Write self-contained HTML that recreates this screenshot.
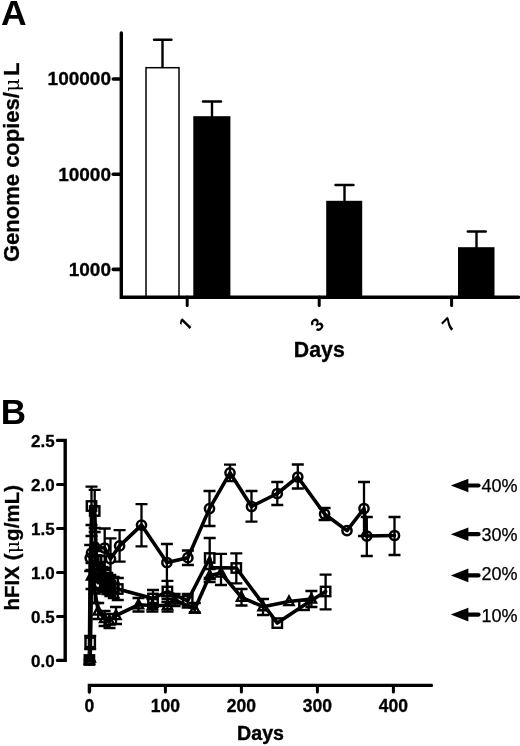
<!DOCTYPE html>
<html lang="en"><head><meta charset="utf-8"><title>Figure</title>
<style>html,body{margin:0;padding:0;background:#fff}svg{display:block;filter:blur(0.45px)}</style></head>
<body>
<svg width="520" height="746" viewBox="0 0 520 746" font-family='"Liberation Sans", sans-serif' fill="#000">
<rect x="0" y="0" width="520" height="746" fill="#fff"/>
<g id="panelA">
<text x="1" y="25.4" font-size="35.5" font-weight="bold">A</text>
<line x1="162.5" y1="39.8" x2="162.5" y2="68.7" stroke="#000" stroke-width="2.4"/>
<line x1="154" y1="39.8" x2="171.5" y2="39.8" stroke="#000" stroke-width="2.4" stroke-linecap="round"/>
<rect x="146" y="67.7" width="33" height="229.3" fill="#fff" stroke="#000" stroke-width="1.5"/>
<line x1="212" y1="101.5" x2="212" y2="117.2" stroke="#000" stroke-width="2.4"/>
<line x1="203" y1="101.5" x2="221" y2="101.5" stroke="#000" stroke-width="2.4" stroke-linecap="round"/>
<rect x="193.3" y="116.2" width="37.099999999999994" height="180.8" fill="#000"/>
<line x1="344.5" y1="185" x2="344.5" y2="201.8" stroke="#000" stroke-width="2.4"/>
<line x1="335.5" y1="185" x2="353.5" y2="185" stroke="#000" stroke-width="2.4" stroke-linecap="round"/>
<rect x="326.2" y="200.8" width="36.0" height="96.19999999999999" fill="#000"/>
<line x1="476.5" y1="231.5" x2="476.5" y2="248.2" stroke="#000" stroke-width="2.4"/>
<line x1="467.8" y1="231.5" x2="485.8" y2="231.5" stroke="#000" stroke-width="2.4" stroke-linecap="round"/>
<rect x="458" y="247.2" width="36.5" height="49.80000000000001" fill="#000"/>
<path d="M121.3 33 V297.3 H518.5" fill="none" stroke="#000" stroke-width="3.4" stroke-linecap="round" stroke-linejoin="miter"/>
<line x1="113.3" y1="79.0" x2="121" y2="79.0" stroke="#000" stroke-width="3.6" stroke-linecap="round"/>
<line x1="113.3" y1="174.2" x2="121" y2="174.2" stroke="#000" stroke-width="3.6" stroke-linecap="round"/>
<line x1="113.3" y1="269.4" x2="121" y2="269.4" stroke="#000" stroke-width="3.6" stroke-linecap="round"/>
<line x1="187.2" y1="297" x2="187.2" y2="305.5" stroke="#000" stroke-width="3" stroke-linecap="round"/>
<line x1="319.2" y1="297" x2="319.2" y2="305.5" stroke="#000" stroke-width="3" stroke-linecap="round"/>
<line x1="451.6" y1="297" x2="451.6" y2="305.5" stroke="#000" stroke-width="3" stroke-linecap="round"/>
<text x="111" y="85.4" font-size="19" font-weight="bold" text-anchor="end" stroke="#000" stroke-width="0.3">100000</text>
<text x="111" y="180.6" font-size="19" font-weight="bold" text-anchor="end" stroke="#000" stroke-width="0.3">10000</text>
<text x="111" y="275.79999999999995" font-size="19" font-weight="bold" text-anchor="end" stroke="#000" stroke-width="0.3">1000</text>
<clipPath id="c1"><path d="M-8 -12 H8 V4.45 H1.85 V8 H-0.95 V4.45 H-8 Z"/></clipPath>
<text transform="translate(185.6,323.8) rotate(-45)" font-size="18.5" font-weight="bold" text-anchor="middle" dominant-baseline="central" clip-path="url(#c1)">1</text>
<text transform="translate(317.1,324.6) rotate(-45)" font-size="18.5" font-weight="bold" text-anchor="middle" dominant-baseline="central">3</text>
<text transform="translate(448.6,324.3) rotate(-45)" font-size="18.5" font-weight="bold" text-anchor="middle" dominant-baseline="central">7</text>
<text x="319.3" y="356.5" font-size="21.3" font-weight="bold" text-anchor="middle" stroke="#000" stroke-width="0.3">Days</text>
<text transform="translate(18.8,262) rotate(-90)" font-size="22" font-weight="bold" stroke="#000" stroke-width="0.3">Genome copies/<tspan font-weight="normal" font-size="20" dx="0.6" stroke="none" font-family='"DejaVu Serif", serif'>μ</tspan><tspan dx="2.4">L</tspan></text>
</g>
<g id="panelB">
<text x="0.8" y="424" font-size="35" font-weight="bold">B</text>
<path d="M57.5 440.4 H65.2 V660.4 H57.5" fill="none" stroke="#000" stroke-width="3.4" stroke-linecap="round" stroke-linejoin="miter"/>
<line x1="57.5" y1="616.4" x2="65" y2="616.4" stroke="#000" stroke-width="3" stroke-linecap="round"/>
<line x1="57.5" y1="572.4" x2="65" y2="572.4" stroke="#000" stroke-width="3" stroke-linecap="round"/>
<line x1="57.5" y1="528.4" x2="65" y2="528.4" stroke="#000" stroke-width="3" stroke-linecap="round"/>
<line x1="57.5" y1="484.4" x2="65" y2="484.4" stroke="#000" stroke-width="3" stroke-linecap="round"/>
<text x="54.6" y="666.5" font-size="17" font-weight="bold" text-anchor="end" stroke="#000" stroke-width="0.3">0.0</text>
<text x="54.6" y="622.5" font-size="17" font-weight="bold" text-anchor="end" stroke="#000" stroke-width="0.3">0.5</text>
<text x="54.6" y="578.5" font-size="17" font-weight="bold" text-anchor="end" stroke="#000" stroke-width="0.3">1.0</text>
<text x="54.6" y="534.5" font-size="17" font-weight="bold" text-anchor="end" stroke="#000" stroke-width="0.3">1.5</text>
<text x="54.6" y="490.5" font-size="17" font-weight="bold" text-anchor="end" stroke="#000" stroke-width="0.3">2.0</text>
<text x="54.6" y="446.5" font-size="17" font-weight="bold" text-anchor="end" stroke="#000" stroke-width="0.3">2.5</text>
<path d="M89.4 692 V685.4 H431.5" fill="none" stroke="#000" stroke-width="3.4" stroke-linecap="round" stroke-linejoin="miter"/>
<line x1="165.4" y1="685.4" x2="165.4" y2="692" stroke="#000" stroke-width="3" stroke-linecap="round"/>
<line x1="241.4" y1="685.4" x2="241.4" y2="692" stroke="#000" stroke-width="3" stroke-linecap="round"/>
<line x1="317.4" y1="685.4" x2="317.4" y2="692" stroke="#000" stroke-width="3" stroke-linecap="round"/>
<line x1="393.4" y1="685.4" x2="393.4" y2="692" stroke="#000" stroke-width="3" stroke-linecap="round"/>
<text x="89.4" y="711.7" font-size="17.5" font-weight="bold" text-anchor="middle" stroke="#000" stroke-width="0.3">0</text>
<text x="165.4" y="711.7" font-size="17.5" font-weight="bold" text-anchor="middle" stroke="#000" stroke-width="0.3">100</text>
<text x="241.4" y="711.7" font-size="17.5" font-weight="bold" text-anchor="middle" stroke="#000" stroke-width="0.3">200</text>
<text x="317.4" y="711.7" font-size="17.5" font-weight="bold" text-anchor="middle" stroke="#000" stroke-width="0.3">300</text>
<text x="393.4" y="711.7" font-size="17.5" font-weight="bold" text-anchor="middle" stroke="#000" stroke-width="0.3">400</text>
<text x="260.5" y="739.5" font-size="19.6" font-weight="bold" text-anchor="middle" stroke="#000" stroke-width="0.4">Days</text>
<text transform="translate(19,610.6) rotate(-90)" font-size="20.4" letter-spacing="0.1" font-weight="bold" stroke="#000" stroke-width="0.3">hFIX (<tspan font-weight="normal" font-size="19" stroke="none" font-family='"DejaVu Serif", serif'>μ</tspan>g/mL)</text>
<path d="M450.8 485.5 L468.4 478.7 V492.3 Z" fill="#000"/>
<line x1="466" y1="485.5" x2="478.5" y2="485.5" stroke="#000" stroke-width="4.2" stroke-linecap="round"/>
<text x="481.5" y="491.5" font-size="18" stroke="#000" stroke-width="0.25">40%</text>
<path d="M450.8 534.2 L468.4 527.4000000000001 V541.0 Z" fill="#000"/>
<line x1="466" y1="534.2" x2="478.5" y2="534.2" stroke="#000" stroke-width="4.2" stroke-linecap="round"/>
<text x="481.5" y="540.6" font-size="18" stroke="#000" stroke-width="0.25">30%</text>
<path d="M450.8 575.4 L468.4 568.6 V582.1999999999999 Z" fill="#000"/>
<line x1="466" y1="575.4" x2="478.5" y2="575.4" stroke="#000" stroke-width="4.2" stroke-linecap="round"/>
<text x="481.5" y="579.9" font-size="18" stroke="#000" stroke-width="0.25">20%</text>
<path d="M450.8 614.6 L468.4 607.8000000000001 V621.4 Z" fill="#000"/>
<line x1="466" y1="614.6" x2="478.5" y2="614.6" stroke="#000" stroke-width="4.2" stroke-linecap="round"/>
<text x="481.5" y="621.8" font-size="18" stroke="#000" stroke-width="0.25">10%</text>
<path d="M90.2 545 V571 M84.2 545 H96.2 M84.2 571 H96.2" fill="none" stroke="#000" stroke-width="2.3"/>
<path d="M91.5 536 V570 M85.5 536 H97.5 M85.5 570 H97.5" fill="none" stroke="#000" stroke-width="2.3"/>
<path d="M94.7 528 V566 M88.7 528 H100.7 M88.7 566 H100.7" fill="none" stroke="#000" stroke-width="2.3"/>
<path d="M104.7 528.5 V568 M98.7 528.5 H110.7 M98.7 568 H110.7" fill="none" stroke="#000" stroke-width="2.3"/>
<path d="M110.5 538.4 V577 M104.5 538.4 H116.5 M104.5 577 H116.5" fill="none" stroke="#000" stroke-width="2.3"/>
<path d="M119.6 530.2 V561.6 M113.6 530.2 H125.6 M113.6 561.6 H125.6" fill="none" stroke="#000" stroke-width="2.3"/>
<path d="M141.5 504.2 V546.4 M135.5 504.2 H147.5 M135.5 546.4 H147.5" fill="none" stroke="#000" stroke-width="2.3"/>
<path d="M166.9 544 V596 M160.9 544 H172.9 M160.9 596 H172.9" fill="none" stroke="#000" stroke-width="2.3"/>
<path d="M187.9 550.5 V565 M181.9 550.5 H193.9 M181.9 565 H193.9" fill="none" stroke="#000" stroke-width="2.3"/>
<path d="M209.5 491 V526 M203.5 491 H215.5 M203.5 526 H215.5" fill="none" stroke="#000" stroke-width="2.3"/>
<path d="M230 464.7 V481.2 M224 464.7 H236 M224 481.2 H236" fill="none" stroke="#000" stroke-width="2.3"/>
<path d="M251.5 491 V521.6 M245.5 491 H257.5 M245.5 521.6 H257.5" fill="none" stroke="#000" stroke-width="2.3"/>
<path d="M277.3 482 V505 M271.3 482 H283.3 M271.3 505 H283.3" fill="none" stroke="#000" stroke-width="2.3"/>
<path d="M297.8 464.5 V488.5 M291.8 464.5 H303.8 M291.8 488.5 H303.8" fill="none" stroke="#000" stroke-width="2.3"/>
<path d="M324.6 508 V520 M318.6 508 H330.6 M318.6 520 H330.6" fill="none" stroke="#000" stroke-width="2.3"/>
<path d="M364 482 V536 M358 482 H370 M358 536 H370" fill="none" stroke="#000" stroke-width="2.3"/>
<path d="M366.8 517 V556 M360.8 517 H372.8 M360.8 556 H372.8" fill="none" stroke="#000" stroke-width="2.3"/>
<path d="M394.5 517 V555 M388.5 517 H400.5 M388.5 555 H400.5" fill="none" stroke="#000" stroke-width="2.3"/>
<path d="M90.2 636 V649 M84.2 636 H96.2 M84.2 649 H96.2" fill="none" stroke="#000" stroke-width="2.3"/>
<path d="M91.5 486.7 V525 M85.5 486.7 H97.5 M85.5 525 H97.5" fill="none" stroke="#000" stroke-width="2.3"/>
<path d="M94.7 489.9 V532 M88.7 489.9 H100.7 M88.7 532 H100.7" fill="none" stroke="#000" stroke-width="2.3"/>
<path d="M96.5 551 V569 M90.5 551 H102.5 M90.5 569 H102.5" fill="none" stroke="#000" stroke-width="2.3"/>
<path d="M98.5 556 V582 M92.5 556 H104.5 M92.5 582 H104.5" fill="none" stroke="#000" stroke-width="2.3"/>
<path d="M100.5 562 V588 M94.5 562 H106.5 M94.5 588 H106.5" fill="none" stroke="#000" stroke-width="2.3"/>
<path d="M102.5 567 V590 M96.5 567 H108.5 M96.5 590 H108.5" fill="none" stroke="#000" stroke-width="2.3"/>
<path d="M104.8 570 V592 M98.8 570 H110.8 M98.8 592 H110.8" fill="none" stroke="#000" stroke-width="2.3"/>
<path d="M107.3 573 V594 M101.3 573 H113.3 M101.3 594 H113.3" fill="none" stroke="#000" stroke-width="2.3"/>
<path d="M110.3 575 V596 M104.3 575 H116.3 M104.3 596 H116.3" fill="none" stroke="#000" stroke-width="2.3"/>
<path d="M113.8 577 V598 M107.8 577 H119.8 M107.8 598 H119.8" fill="none" stroke="#000" stroke-width="2.3"/>
<path d="M117.8 578 V600 M111.8 578 H123.8 M111.8 600 H123.8" fill="none" stroke="#000" stroke-width="2.3"/>
<path d="M153 590 V607 M147 590 H159 M147 607 H159" fill="none" stroke="#000" stroke-width="2.3"/>
<path d="M167.4 580.8 V602 M161.4 580.8 H173.4 M161.4 602 H173.4" fill="none" stroke="#000" stroke-width="2.3"/>
<path d="M187.7 594 V607.5 M181.7 594 H193.7 M181.7 607.5 H193.7" fill="none" stroke="#000" stroke-width="2.3"/>
<path d="M209.7 538 V578 M203.7 538 H215.7 M203.7 578 H215.7" fill="none" stroke="#000" stroke-width="2.3"/>
<path d="M236.3 553.3 V583.3 M230.3 553.3 H242.3 M230.3 583.3 H242.3" fill="none" stroke="#000" stroke-width="2.3"/>
<path d="M325.6 574.7 V609.3 M319.6 574.7 H331.6 M319.6 609.3 H331.6" fill="none" stroke="#000" stroke-width="2.3"/>
<path d="M91.5 563 V589 M85.5 563 H97.5 M85.5 589 H97.5" fill="none" stroke="#000" stroke-width="2.3"/>
<path d="M94.7 577 V603 M88.7 577 H100.7 M88.7 603 H100.7" fill="none" stroke="#000" stroke-width="2.3"/>
<path d="M98.2 603 V619 M92.2 603 H104.2 M92.2 619 H104.2" fill="none" stroke="#000" stroke-width="2.3"/>
<path d="M104.6 611 V626 M98.6 611 H110.6 M98.6 626 H110.6" fill="none" stroke="#000" stroke-width="2.3"/>
<path d="M109.5 614 V628 M103.5 614 H115.5 M103.5 628 H115.5" fill="none" stroke="#000" stroke-width="2.3"/>
<path d="M116 607 V624 M110 607 H122 M110 624 H122" fill="none" stroke="#000" stroke-width="2.3"/>
<path d="M138.5 598 V611.5 M132.5 598 H144.5 M132.5 611.5 H144.5" fill="none" stroke="#000" stroke-width="2.3"/>
<path d="M152.4 599 V611.5 M146.4 599 H158.4 M146.4 611.5 H158.4" fill="none" stroke="#000" stroke-width="2.3"/>
<path d="M167.5 599 V611.5 M161.5 599 H173.5 M161.5 611.5 H173.5" fill="none" stroke="#000" stroke-width="2.3"/>
<path d="M174.6 594 V606 M168.6 594 H180.6 M168.6 606 H180.6" fill="none" stroke="#000" stroke-width="2.3"/>
<path d="M194.8 603 V612.5 M188.8 603 H200.8 M188.8 612.5 H200.8" fill="none" stroke="#000" stroke-width="2.3"/>
<path d="M209.7 569 V582 M203.7 569 H215.7 M203.7 582 H215.7" fill="none" stroke="#000" stroke-width="2.3"/>
<path d="M221 553.8 V585 M215 553.8 H227 M215 585 H227" fill="none" stroke="#000" stroke-width="2.3"/>
<path d="M241.5 589 V605.5 M235.5 589 H247.5 M235.5 605.5 H247.5" fill="none" stroke="#000" stroke-width="2.3"/>
<path d="M263 599 V615 M257 599 H269 M257 615 H269" fill="none" stroke="#000" stroke-width="2.3"/>
<path d="M311.4 591 V607 M305.4 591 H317.4 M305.4 607 H317.4" fill="none" stroke="#000" stroke-width="2.3"/>
<polyline points="89.4,660 90.2,558 91.5,553 94.7,547 104.7,548 110.5,558.8 119.6,545.9 141.5,525.1 166.9,562.5 187.9,557.7 209.5,508.6 230,472.8 251.5,506.5 277.3,493.5 297.8,477 324.6,514 347,530.6 364,508.5 366.8,536 394.5,535.5" fill="none" stroke="#000" stroke-width="3.6" stroke-linejoin="round" stroke-linecap="round"/>
<polyline points="89.4,660 90.2,642.4 91.5,506 94.7,511 96.5,560 98.5,569 100.5,575 102.5,578.5 104.8,581 107.3,583.5 110.3,585.5 113.8,587.5 117.8,589 153,598.5 167.4,591.5 187.7,600.8 209.7,558 212,567.6 236.3,568 277.3,623.1 304,605.3 325.6,591.5" fill="none" stroke="#000" stroke-width="3.6" stroke-linejoin="round" stroke-linecap="round"/>
<polyline points="89.4,660 90.2,658 91.5,576 94.7,590 98.2,611 104.6,618.5 109.5,621 116,615.5 138.5,604.8 152.4,605.5 167.5,605.5 174.6,600 194.8,609 209.7,575.5 221,573 241.5,597.3 263,606.7 289,601.5 311.4,599" fill="none" stroke="#000" stroke-width="3.6" stroke-linejoin="round" stroke-linecap="round"/>
<circle cx="89.4" cy="660" r="4.6" fill="none" stroke="#000" stroke-width="2.5"/>
<circle cx="90.2" cy="558" r="4.6" fill="none" stroke="#000" stroke-width="2.5"/>
<circle cx="91.5" cy="553" r="4.6" fill="none" stroke="#000" stroke-width="2.5"/>
<circle cx="94.7" cy="547" r="4.6" fill="none" stroke="#000" stroke-width="2.5"/>
<circle cx="104.7" cy="548" r="4.6" fill="none" stroke="#000" stroke-width="2.5"/>
<circle cx="110.5" cy="558.8" r="4.6" fill="none" stroke="#000" stroke-width="2.5"/>
<circle cx="119.6" cy="545.9" r="4.6" fill="none" stroke="#000" stroke-width="2.5"/>
<circle cx="141.5" cy="525.1" r="4.6" fill="none" stroke="#000" stroke-width="2.5"/>
<circle cx="166.9" cy="562.5" r="4.6" fill="none" stroke="#000" stroke-width="2.5"/>
<circle cx="187.9" cy="557.7" r="4.6" fill="none" stroke="#000" stroke-width="2.5"/>
<circle cx="209.5" cy="508.6" r="4.6" fill="none" stroke="#000" stroke-width="2.5"/>
<circle cx="230" cy="472.8" r="4.6" fill="none" stroke="#000" stroke-width="2.5"/>
<circle cx="251.5" cy="506.5" r="4.6" fill="none" stroke="#000" stroke-width="2.5"/>
<circle cx="277.3" cy="493.5" r="4.6" fill="none" stroke="#000" stroke-width="2.5"/>
<circle cx="297.8" cy="477" r="4.6" fill="none" stroke="#000" stroke-width="2.5"/>
<circle cx="324.6" cy="514" r="4.6" fill="none" stroke="#000" stroke-width="2.5"/>
<circle cx="347" cy="530.6" r="4.6" fill="none" stroke="#000" stroke-width="2.5"/>
<circle cx="364" cy="508.5" r="4.6" fill="none" stroke="#000" stroke-width="2.5"/>
<circle cx="366.8" cy="536" r="4.6" fill="none" stroke="#000" stroke-width="2.5"/>
<circle cx="394.5" cy="535.5" r="4.6" fill="none" stroke="#000" stroke-width="2.5"/>
<rect x="84.7" y="655.3" width="9.4" height="9.4" fill="none" stroke="#000" stroke-width="2.4"/>
<rect x="85.5" y="637.6999999999999" width="9.4" height="9.4" fill="none" stroke="#000" stroke-width="2.4"/>
<rect x="86.8" y="501.3" width="9.4" height="9.4" fill="none" stroke="#000" stroke-width="2.4"/>
<rect x="90.0" y="506.3" width="9.4" height="9.4" fill="none" stroke="#000" stroke-width="2.4"/>
<rect x="91.8" y="555.3" width="9.4" height="9.4" fill="none" stroke="#000" stroke-width="2.4"/>
<rect x="93.8" y="564.3" width="9.4" height="9.4" fill="none" stroke="#000" stroke-width="2.4"/>
<rect x="95.8" y="570.3" width="9.4" height="9.4" fill="none" stroke="#000" stroke-width="2.4"/>
<rect x="97.8" y="573.8" width="9.4" height="9.4" fill="none" stroke="#000" stroke-width="2.4"/>
<rect x="100.1" y="576.3" width="9.4" height="9.4" fill="none" stroke="#000" stroke-width="2.4"/>
<rect x="102.6" y="578.8" width="9.4" height="9.4" fill="none" stroke="#000" stroke-width="2.4"/>
<rect x="105.6" y="580.8" width="9.4" height="9.4" fill="none" stroke="#000" stroke-width="2.4"/>
<rect x="109.1" y="582.8" width="9.4" height="9.4" fill="none" stroke="#000" stroke-width="2.4"/>
<rect x="113.1" y="584.3" width="9.4" height="9.4" fill="none" stroke="#000" stroke-width="2.4"/>
<rect x="148.3" y="593.8" width="9.4" height="9.4" fill="none" stroke="#000" stroke-width="2.4"/>
<rect x="162.70000000000002" y="586.8" width="9.4" height="9.4" fill="none" stroke="#000" stroke-width="2.4"/>
<rect x="183.0" y="596.0999999999999" width="9.4" height="9.4" fill="none" stroke="#000" stroke-width="2.4"/>
<rect x="205.0" y="553.3" width="9.4" height="9.4" fill="none" stroke="#000" stroke-width="2.4"/>
<rect x="231.60000000000002" y="563.3" width="9.4" height="9.4" fill="none" stroke="#000" stroke-width="2.4"/>
<rect x="272.6" y="618.4" width="9.4" height="9.4" fill="none" stroke="#000" stroke-width="2.4"/>
<rect x="299.3" y="600.5999999999999" width="9.4" height="9.4" fill="none" stroke="#000" stroke-width="2.4"/>
<rect x="320.90000000000003" y="586.8" width="9.4" height="9.4" fill="none" stroke="#000" stroke-width="2.4"/>
<path d="M89.4 655 L94.0 663.6 H84.80000000000001 Z" fill="none" stroke="#000" stroke-width="2.4" stroke-linejoin="miter"/>
<path d="M90.2 653 L94.8 661.6 H85.60000000000001 Z" fill="none" stroke="#000" stroke-width="2.4" stroke-linejoin="miter"/>
<path d="M91.5 571 L96.1 579.6 H86.9 Z" fill="none" stroke="#000" stroke-width="2.4" stroke-linejoin="miter"/>
<path d="M94.7 585 L99.3 593.6 H90.10000000000001 Z" fill="none" stroke="#000" stroke-width="2.4" stroke-linejoin="miter"/>
<path d="M98.2 606 L102.8 614.6 H93.60000000000001 Z" fill="none" stroke="#000" stroke-width="2.4" stroke-linejoin="miter"/>
<path d="M104.6 613.5 L109.19999999999999 622.1 H100.0 Z" fill="none" stroke="#000" stroke-width="2.4" stroke-linejoin="miter"/>
<path d="M109.5 616 L114.1 624.6 H104.9 Z" fill="none" stroke="#000" stroke-width="2.4" stroke-linejoin="miter"/>
<path d="M116 610.5 L120.6 619.1 H111.4 Z" fill="none" stroke="#000" stroke-width="2.4" stroke-linejoin="miter"/>
<path d="M138.5 599.8 L143.1 608.4 H133.9 Z" fill="none" stroke="#000" stroke-width="2.4" stroke-linejoin="miter"/>
<path d="M152.4 600.5 L157.0 609.1 H147.8 Z" fill="none" stroke="#000" stroke-width="2.4" stroke-linejoin="miter"/>
<path d="M167.5 600.5 L172.1 609.1 H162.9 Z" fill="none" stroke="#000" stroke-width="2.4" stroke-linejoin="miter"/>
<path d="M174.6 595 L179.2 603.6 H170.0 Z" fill="none" stroke="#000" stroke-width="2.4" stroke-linejoin="miter"/>
<path d="M194.8 604 L199.4 612.6 H190.20000000000002 Z" fill="none" stroke="#000" stroke-width="2.4" stroke-linejoin="miter"/>
<path d="M209.7 570.5 L214.29999999999998 579.1 H205.1 Z" fill="none" stroke="#000" stroke-width="2.4" stroke-linejoin="miter"/>
<path d="M221 568 L225.6 576.6 H216.4 Z" fill="none" stroke="#000" stroke-width="2.4" stroke-linejoin="miter"/>
<path d="M241.5 592.3 L246.1 600.9 H236.9 Z" fill="none" stroke="#000" stroke-width="2.4" stroke-linejoin="miter"/>
<path d="M263 601.7 L267.6 610.3000000000001 H258.4 Z" fill="none" stroke="#000" stroke-width="2.4" stroke-linejoin="miter"/>
<path d="M289 596.5 L293.6 605.1 H284.4 Z" fill="none" stroke="#000" stroke-width="2.4" stroke-linejoin="miter"/>
<path d="M311.4 594 L316.0 602.6 H306.79999999999995 Z" fill="none" stroke="#000" stroke-width="2.4" stroke-linejoin="miter"/>
</g>
</svg>
</body></html>
